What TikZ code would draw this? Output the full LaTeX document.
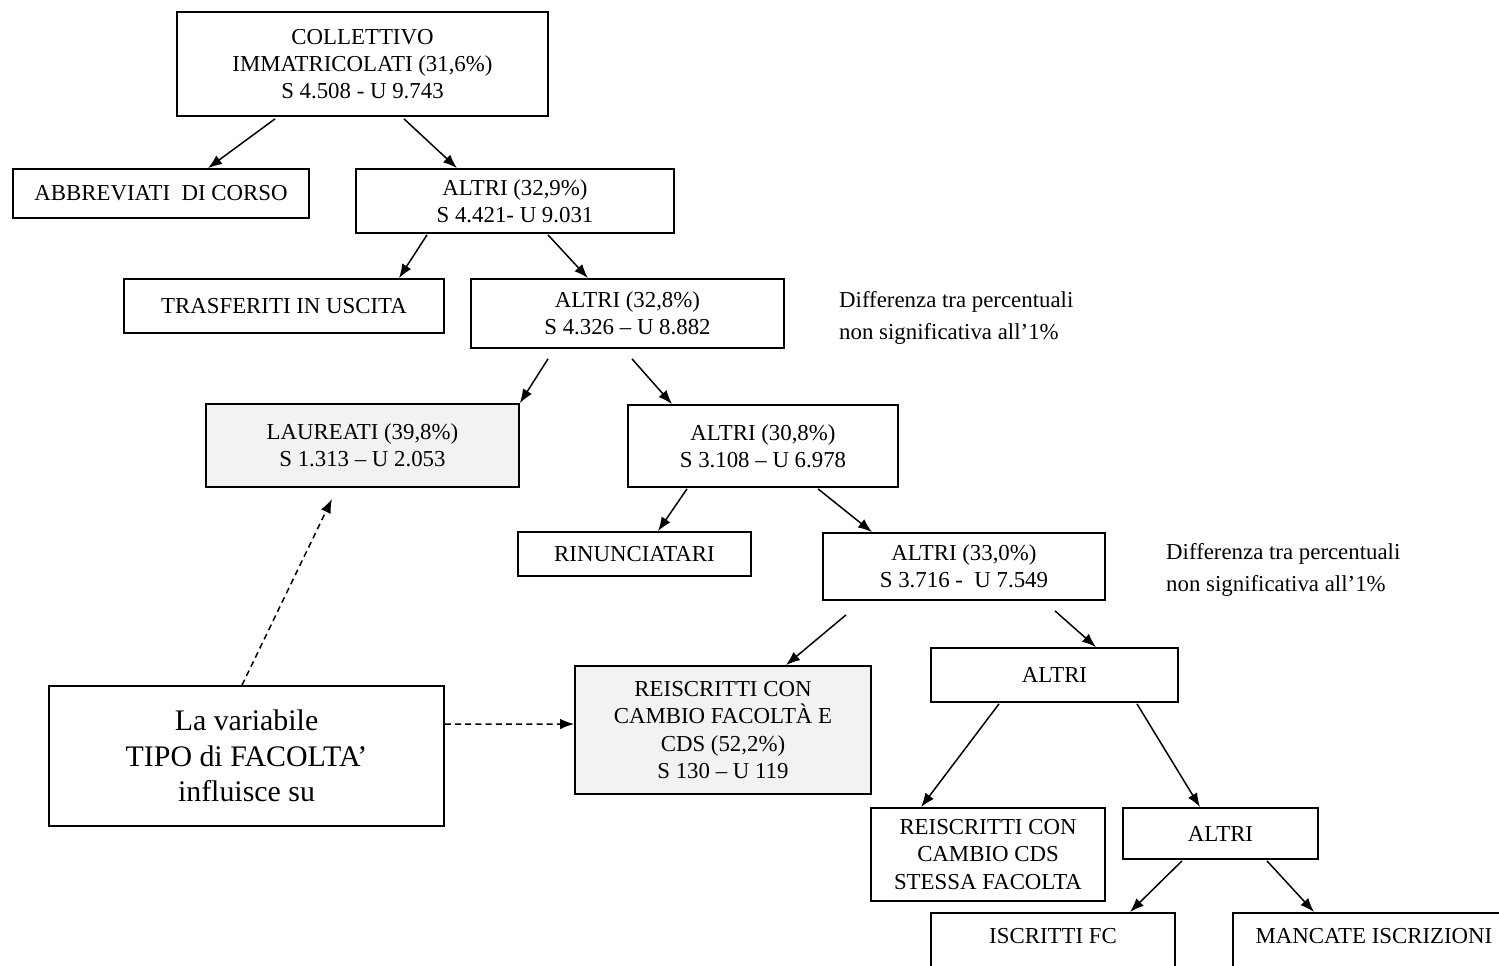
\documentclass[tikz,border=0pt]{standalone}
\usepackage{fontspec}
\setmainfont{Liberation Serif}
\usetikzlibrary{arrows.meta}

\begin{document}
\begin{tikzpicture}[x=0.02cm, y=-0.02cm,
    box/.style={rectangle, draw, line width=1pt, align=center, inner sep=0pt, font=\fontsize{13}{15.5}\selectfont},
    grey/.style={box, fill=black!5},
    cut/.style={box, anchor=north, text height=0.3cm, text depth=1.5cm, inner ysep=0.32cm},
    note/.style={anchor=west, align=left, font=\fontsize{13}{18}\selectfont},
    arr/.style={-{Latex[length=8pt,width=6pt]}, line width=0.85pt},
    dasharr/.style={arr, dash pattern=on 3.4pt off 2.4pt}]
    \useasboundingbox (0,0) rectangle (1499,965);
    \clip (0,0) rectangle (1499,965);

    \node[box, minimum width=7.42cm, minimum height=2.08cm] (Coll) at (362.5,64) {COLLETTIVO\\IMMATRICOLATI (31,6\%)\\S 4.508 - U 9.743};
    \node[box, minimum width=5.92cm, minimum height=0.98cm] (Abbr) at (161,193.5) {ABBREVIATI\ \ DI CORSO};
    \node[box, minimum width=6.36cm, minimum height=1.28cm] (Altri1) at (515,201) {ALTRI (32,9\%)\\S 4.421- U 9.031};
    \node[box, minimum width=6.40cm, minimum height=1.08cm] (Trasf) at (284,306) {TRASFERITI IN USCITA};
    \node[box, minimum width=6.26cm, minimum height=1.38cm] (Altri2) at (627.5,313.5) {ALTRI (32,8\%)\\S 4.326 -- U 8.882};
    \node[note] (Note1) at (833,318) {Differenza tra percentuali\\non significativa all’1\%};
    \node[grey, minimum width=6.26cm, minimum height=1.66cm] (Laur) at (362.5,445.5) {LAUREATI (39,8\%)\\S 1.313 -- U 2.053};
    \node[box, minimum width=5.40cm, minimum height=1.64cm] (Altri3) at (763,446) {ALTRI (30,8\%)\\S 3.108 -- U 6.978};
    \node[box, minimum width=4.66cm, minimum height=0.88cm] (Rinun) at (634.5,554) {RINUNCIATARI};
    \node[box, minimum width=5.64cm, minimum height=1.34cm] (Altri4) at (964,566.5) {ALTRI (33,0\%)\\S 3.716 -\ \ U 7.549};
    \node[note] (Note2) at (1160,570) {Differenza tra percentuali\\non significativa all’1\%};
    \node[box, minimum width=4.94cm, minimum height=1.08cm] (Altri5) at (1054.5,675) {ALTRI};
    \node[grey, minimum width=5.92cm, minimum height=2.56cm] (Reis1) at (723,730) {REISCRITTI CON\\CAMBIO FACOLTÀ E\\CDS (52,2\%)\\S 130 -- U 119};
    \node[box, minimum width=7.90cm, minimum height=2.80cm, font=\fontsize{17}{20.3}\selectfont] (Var) at (246.5,756) {La variabile\\TIPO di FACOLTA’\\influisce su};
    \node[box, minimum width=4.68cm, minimum height=1.86cm] (Reis2) at (988,854.5) {REISCRITTI CON\\CAMBIO CDS\\STESSA FACOLTA};
    \node[box, minimum width=3.90cm, minimum height=1.02cm] (Altri6) at (1220.5,833.5) {ALTRI};
    \node[cut, minimum width=4.88cm] (Iscr) at (1053,912) {ISCRITTI FC};
    \node[cut, minimum width=5.64cm] (Manc) at (1374,912) {MANCATE ISCRIZIONI};

    \draw[arr] ([xshift=-1.75cm,yshift=-0.04cm]Coll.south) -- ([xshift=0.94cm]Abbr.north);
    \draw[arr] ([xshift=0.83cm,yshift=-0.04cm]Coll.south) -- ([xshift=-1.16cm]Altri1.north);
    \draw[arr] ([xshift=-1.76cm,yshift=-0.02cm]Altri1.south) -- ([xshift=2.30cm]Trasf.north);
    \draw[arr] ([xshift=0.66cm,yshift=-0.02cm]Altri1.south) -- ([xshift=-0.79cm]Altri2.north);
    \draw[arr] ([xshift=-1.59cm,yshift=-0.2cm]Altri2.south) -- (Laur.north east);
    \draw[arr] ([xshift=0.09cm,yshift=-0.2cm]Altri2.south) -- ([xshift=-1.82cm]Altri3.north);
    \draw[arr] ([xshift=-1.52cm,yshift=-0.02cm]Altri3.south) -- ([xshift=0.47cm]Rinun.north);
    \draw[arr] ([xshift=1.10cm,yshift=-0.02cm]Altri3.south) -- ([xshift=-1.84cm]Altri4.north);
    \draw[arr] ([xshift=-2.36cm,yshift=-0.28cm]Altri4.south) -- ([xshift=1.26cm]Reis1.north);
    \draw[arr] ([xshift=1.82cm,yshift=-0.2cm]Altri4.south) -- ([xshift=0.83cm]Altri5.north);
    \draw[arr] ([xshift=-1.11cm,yshift=-0.02cm]Altri5.south) -- ([xshift=-1.34cm]Reis2.north);
    \draw[arr] ([xshift=1.65cm,yshift=-0.02cm]Altri5.south) -- ([xshift=-0.41cm]Altri6.north);
    \draw[arr] ([xshift=-0.77cm,yshift=-0.02cm]Altri6.south) -- ([xshift=1.54cm]Iscr.north);
    \draw[arr] ([xshift=0.93cm,yshift=-0.02cm]Altri6.south) -- ([xshift=-1.20cm]Manc.north);
    \draw[dasharr] ([xshift=-0.09cm]Var.north) -- ([xshift=-0.61cm,yshift=-0.22cm]Laur.south);
    \draw[dasharr] ([yshift=0.64cm]Var.east) -- ([yshift=0.12cm]Reis1.west);
\end{tikzpicture}
\end{document}
